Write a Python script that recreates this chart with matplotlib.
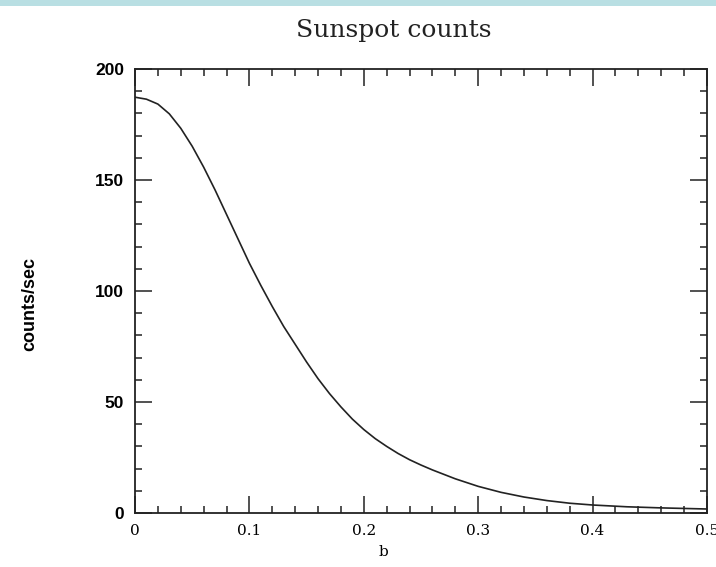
import matplotlib
matplotlib.use("Agg")
import matplotlib.pyplot as plt
from matplotlib.ticker import MultipleLocator
from matplotlib.patches import Rectangle

b_values = [0.0, 0.01, 0.02, 0.03, 0.04, 0.05, 0.06, 0.07, 0.08, 0.09, 0.10,
            0.11, 0.12, 0.13, 0.14, 0.15, 0.16, 0.17, 0.18, 0.19, 0.20, 0.21,
            0.22, 0.23, 0.24, 0.25, 0.26, 0.28, 0.30, 0.32, 0.34, 0.36, 0.38,
            0.40, 0.43, 0.46, 0.50]
counts = [187.3, 186.4, 184.2, 179.8, 173.3, 165.2, 155.8, 145.5, 134.5, 123.5, 112.5,
          102.5, 93.0, 84.0, 76.0, 68.0, 60.5, 53.8, 47.8, 42.3, 37.6, 33.5,
          30.0, 26.8, 24.0, 21.6, 19.4, 15.4, 12.0, 9.3, 7.2, 5.6, 4.4,
          3.6, 2.8, 2.3, 1.8]

x_ticks = [0, 0.1, 0.2, 0.3, 0.4, 0.5]
x_tick_labels = ["0", "0.1", "0.2", "0.3", "0.4", "0.5"]
y_ticks = [0, 50, 100, 150, 200]
y_tick_labels = ["0", "50", "100", "150", "200"]

fig = plt.figure(figsize=(7.16, 5.67), dpi=100)
fig.patches.append(Rectangle((0, 1 - 6 / 567), 1, 6 / 567, transform=fig.transFigure,
                             facecolor="#b9dfe3", edgecolor="none", zorder=0))
ax = fig.add_axes([135 / 716, 1 - 513 / 567, (707 - 135) / 716, (513 - 69) / 567])

ax.plot(b_values, counts, color="#222222", linewidth=1.2)
ax.set_xlim(0, 0.5)
ax.set_ylim(0, 200)

ax.set_xticks(x_ticks)
ax.set_xticklabels(x_tick_labels, fontfamily="DejaVu Serif", fontsize=11)
ax.set_yticks(y_ticks)
ax.set_yticklabels(y_tick_labels, fontfamily="Liberation Sans", fontweight="bold", fontsize=12.5)
ax.xaxis.set_minor_locator(MultipleLocator(0.02))
ax.yaxis.set_minor_locator(MultipleLocator(10))
ax.tick_params(which="both", direction="in", top=True, right=True, color="#222222", width=1.1)
ax.tick_params(which="major", length=12.5, pad=8)
ax.tick_params(which="minor", length=5)
for s in ax.spines.values():
    s.set_linewidth(1.3)
    s.set_color("#222222")

fig.text(394 / 716, 1 - 31 / 567, "Sunspot counts", fontfamily="DejaVu Serif", fontsize=18,
         ha="center", va="center", color="#222222")
fig.text(383 / 716, 1 - 552 / 567, "b", fontfamily="DejaVu Serif", fontsize=11,
         ha="center", va="center")
fig.text(30 / 716, 1 - 304 / 567, "counts/sec", fontfamily="Liberation Sans", fontweight="bold",
         fontsize=13, rotation=90, ha="center", va="center")

fig.savefig("out.png", dpi=100)
